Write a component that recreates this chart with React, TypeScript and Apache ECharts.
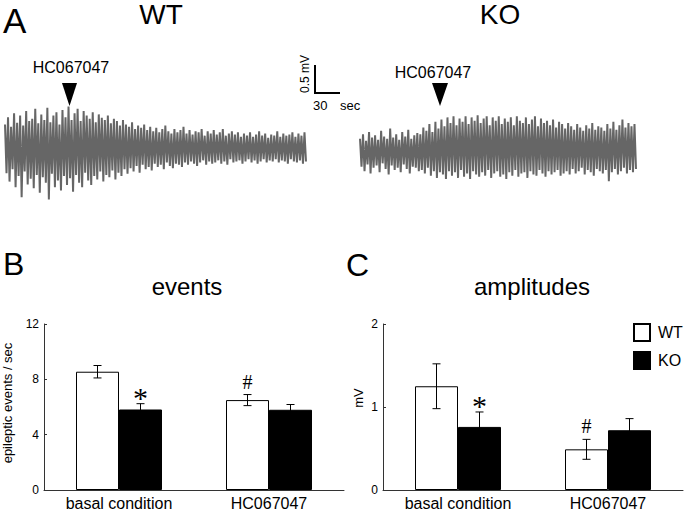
import React, { useEffect, useRef } from "react";
import * as echarts from "echarts";

// ---- Panel A: EEG traces (mV), alternating peak / trough per sample pair ----
const WT_TRACE_HIGH = [
  0.42, 0.55, 0.38, 0.62, 0.45, 0.58, 0.40, 0.66, 0.48, 0.52,
  0.70, 0.44, 0.60, 0.50, 0.72, 0.46, 0.58, 0.64, 0.42, 0.68,
  0.55, 0.74, 0.50, 0.62, 0.70, 0.48, 0.66, 0.58, 0.52, 0.64,
  0.46, 0.60, 0.54, 0.50, 0.58, 0.44, 0.52, 0.48, 0.40, 0.50,
  0.42, 0.38, 0.46, 0.34, 0.40, 0.36, 0.42, 0.32, 0.38, 0.30,
  0.36, 0.28, 0.34, 0.40, 0.30, 0.26, 0.34, 0.28, 0.32, 0.38,
  0.26, 0.32, 0.24, 0.30, 0.28, 0.34, 0.22, 0.30, 0.26, 0.32,
  0.24, 0.28, 0.34, 0.22, 0.26, 0.30, 0.24, 0.28, 0.20, 0.26,
  0.22, 0.28, 0.20, 0.24, 0.30, 0.22, 0.26, 0.18, 0.24, 0.22,
  0.30, 0.20, 0.26, 0.22, 0.24, 0.28, 0.20, 0.26, 0.22, 0.28,
];
const WT_TRACE_LOW = [
  -0.45, -0.60, -0.38, -0.70, -0.50, -0.88, -0.42, -0.65, -0.55, -0.72,
  -0.48, -0.80, -0.52, -0.62, -0.92, -0.46, -0.70, -0.58, -0.76, -0.50,
  -0.66, -0.54, -0.78, -0.48, -0.62, -0.70, -0.44, -0.58, -0.66, -0.50,
  -0.56, -0.42, -0.60, -0.48, -0.52, -0.40, -0.56, -0.44, -0.50, -0.38,
  -0.46, -0.36, -0.42, -0.32, -0.44, -0.30, -0.38, -0.34, -0.40, -0.28,
  -0.34, -0.30, -0.38, -0.26, -0.32, -0.36, -0.28, -0.30, -0.34, -0.26,
  -0.30, -0.24, -0.28, -0.32, -0.26, -0.22, -0.30, -0.24, -0.28, -0.26,
  -0.22, -0.28, -0.24, -0.30, -0.20, -0.26, -0.24, -0.22, -0.28, -0.24,
  -0.20, -0.26, -0.22, -0.28, -0.24, -0.20, -0.26, -0.22, -0.24, -0.20,
  -0.26, -0.22, -0.24, -0.28, -0.20, -0.24, -0.26, -0.22, -0.28, -0.24,
];
const KO_TRACE_HIGH = [
  0.22, 0.30, 0.18, 0.34, 0.24, 0.28, 0.20, 0.36, 0.26, 0.22,
  0.40, 0.24, 0.30, 0.20, 0.34, 0.26, 0.38, 0.22, 0.28, 0.32,
  0.30, 0.42, 0.36, 0.48, 0.34, 0.52, 0.40, 0.56, 0.44, 0.60,
  0.50, 0.62, 0.46, 0.58, 0.52, 0.62, 0.48, 0.60, 0.54, 0.64,
  0.50, 0.58, 0.62, 0.46, 0.60, 0.54, 0.62, 0.48, 0.58, 0.52,
  0.60, 0.46, 0.62, 0.54, 0.50, 0.60, 0.48, 0.56, 0.62, 0.44,
  0.58, 0.50, 0.54, 0.46, 0.56, 0.42, 0.52, 0.48, 0.40, 0.50,
  0.44, 0.38, 0.48, 0.42, 0.36, 0.46, 0.40, 0.50, 0.38, 0.44,
  0.42, 0.36, 0.48, 0.40, 0.52, 0.38, 0.46, 0.56, 0.42, 0.50,
  0.44, 0.48,
];
const KO_TRACE_LOW = [
  -0.28, -0.36, -0.24, -0.40, -0.30, -0.26, -0.38, -0.22, -0.32, -0.42,
  -0.26, -0.34, -0.30, -0.38, -0.24, -0.32, -0.40, -0.28, -0.30, -0.36,
  -0.34, -0.40, -0.30, -0.44, -0.36, -0.48, -0.38, -0.42, -0.50, -0.36,
  -0.44, -0.38, -0.48, -0.34, -0.46, -0.40, -0.50, -0.36, -0.42, -0.46,
  -0.38, -0.44, -0.34, -0.48, -0.40, -0.36, -0.46, -0.42, -0.50, -0.38,
  -0.44, -0.34, -0.46, -0.40, -0.38, -0.48, -0.36, -0.42, -0.44, -0.34,
  -0.40, -0.46, -0.36, -0.42, -0.38, -0.34, -0.44, -0.40, -0.36, -0.42,
  -0.32, -0.40, -0.36, -0.30, -0.42, -0.34, -0.38, -0.44, -0.32, -0.36,
  -0.40, -0.34, -0.54, -0.38, -0.32, -0.42, -0.36, -0.30, -0.40, -0.34,
  -0.38, -0.32,
];

// ---- Panels B and C ----
const CATEGORIES = ["basal condition", "HC067047"];
const GROUPS = ["WT", "KO"];

const EVENTS_WT = [8.55, 6.5];
const EVENTS_WT_SEM = [0.45, 0.4];
const EVENTS_KO = [5.82, 5.8];
const EVENTS_KO_SEM = [0.42, 0.38];
const EVENTS_WT_MARK = ["", "#"];
const EVENTS_KO_MARK = ["*", ""];
const EVENTS_TICKS = { min: 0, max: 12, interval: 4 };

const AMP_WT = [1.25, 0.49];
const AMP_WT_SEM = [0.27, 0.12];
const AMP_KO = [0.76, 0.72];
const AMP_KO_SEM = [0.18, 0.14];
const AMP_WT_MARK = ["", "#"];
const AMP_KO_MARK = ["*", ""];
const AMP_TICKS = { min: 0, max: 2, interval: 1 };

const FONT = "Liberation Sans";
const SERIF = "Liberation Serif";
const BAR_W = 43;
const TRACE_COLOR = "#666666";

function interleave(high: number[], low: number[]) {
  const out: number[][] = [];
  for (let i = 0; i < high.length; i++) {
    out.push([i * 2, high[i]]);
    out.push([i * 2 + 1, low[i]]);
  }
  return out;
}

function errorSeries(
  grid: number,
  mean: number[],
  sem: number[],
  marks: string[],
  offset: number
) {
  return {
    type: "custom",
    xAxisIndex: grid,
    yAxisIndex: grid,
    silent: true,
    z: 5,
    data: mean.map((m, i) => [i, m, sem[i]]),
    renderItem: (params: any, api: any) => {
      const cat = api.value(0);
      const m = api.value(1);
      const e = api.value(2);
      const top = api.coord([cat, m + e]);
      const bot = api.coord([cat, m - e]);
      const x = top[0] + offset;
      const st = { stroke: "#000", lineWidth: 1 };
      const children: any[] = [
        { type: "line", shape: { x1: x, y1: top[1], x2: x, y2: bot[1] }, style: st },
        { type: "line", shape: { x1: x - 4, y1: top[1], x2: x + 4, y2: top[1] }, style: st },
        { type: "line", shape: { x1: x - 4, y1: bot[1], x2: x + 4, y2: bot[1] }, style: st },
      ];
      const mk = marks[params.dataIndex];
      if (mk) {
        const star = mk === "*";
        children.push({
          type: "text",
          x: x,
          y: top[1] - (star ? 6 : 13),
          style: {
            text: mk,
            fontFamily: SERIF,
            fontSize: star ? 30 : 20,
            fill: "#000",
            align: "center",
            verticalAlign: "middle",
          },
        });
      }
      return { type: "group", children };
    },
  };
}

function txt(text: string, x: number, y: number, size: number, align = "left", rot = 0, family = FONT) {
  return {
    type: "text",
    x,
    y,
    rotation: rot,
    silent: true,
    style: {
      text,
      fontFamily: family,
      fontSize: size,
      lineHeight: size,
      fill: "#000",
      align,
      verticalAlign: "middle",
    },
  };
}

export default function App() {
  const ref = useRef<HTMLDivElement>(null);

  useEffect(() => {
    document.body.style.margin = "0";
    const chart = echarts.init(ref.current!, undefined, { renderer: "svg" });

    const wtData = interleave(WT_TRACE_HIGH, WT_TRACE_LOW);
    const koData = interleave(KO_TRACE_HIGH, KO_TRACE_LOW);

    const barX = (grid: number) => ({
      type: "category",
      gridIndex: grid,
      data: CATEGORIES,
      axisLine: { lineStyle: { color: "#333", width: 1 } },
      axisTick: { inside: true, length: 3, lineStyle: { color: "#333" } },
      axisLabel: { color: "#000", fontSize: 16, fontFamily: FONT, margin: 5 },
    });
    const barY = (grid: number, t: any) => ({
      type: "value",
      gridIndex: grid,
      min: t.min,
      max: t.max,
      interval: t.interval,
      axisLine: { show: true, lineStyle: { color: "#333", width: 1 } },
      axisTick: { show: true, inside: true, length: 3, lineStyle: { color: "#333" } },
      axisLabel: { color: "#000", fontSize: 12, fontFamily: FONT, margin: 5 },
      splitLine: { show: false },
    });

    const option: any = {
      animation: false,
      backgroundColor: "#fff",
      textStyle: { fontFamily: FONT },
      legend: {
        data: GROUPS,
        orient: "vertical",
        left: 633,
        top: 323,
        padding: 0,
        itemWidth: 16,
        itemHeight: 17,
        itemGap: 9,
        icon: "rect",
        selectedMode: false,
        textStyle: { fontSize: 16, color: "#000", fontFamily: FONT, padding: [0, 0, 0, 3] },
      },
      grid: [
        { left: 5, width: 301, top: 92, height: 112 },
        { left: 360, width: 276, top: 95, height: 112 },
        { left: 44, width: 300, top: 324, height: 167 },
        { left: 383, width: 300, top: 324, height: 167 },
      ],
      xAxis: [
        { type: "value", gridIndex: 0, min: 0, max: wtData.length - 1, show: false },
        { type: "value", gridIndex: 1, min: 0, max: koData.length - 1, show: false },
        barX(2),
        barX(3),
      ],
      yAxis: [
        { type: "value", gridIndex: 0, min: -1, max: 1, show: false },
        { type: "value", gridIndex: 1, min: -1, max: 1, show: false },
        barY(2, EVENTS_TICKS),
        barY(3, AMP_TICKS),
      ],
      series: [
        {
          name: "WT trace",
          type: "line",
          xAxisIndex: 0,
          yAxisIndex: 0,
          data: wtData,
          showSymbol: false,
          silent: true,
          lineStyle: { color: TRACE_COLOR, width: 2 },
        },
        {
          name: "KO trace",
          type: "line",
          xAxisIndex: 1,
          yAxisIndex: 1,
          data: koData,
          showSymbol: false,
          silent: true,
          lineStyle: { color: TRACE_COLOR, width: 2 },
        },
        {
          name: "WT",
          type: "bar",
          xAxisIndex: 2,
          yAxisIndex: 2,
          data: EVENTS_WT,
          barWidth: BAR_W,
          barGap: "0%",
          itemStyle: { color: "#fff", borderColor: "#000", borderWidth: 1 },
        },
        {
          name: "KO",
          type: "bar",
          xAxisIndex: 2,
          yAxisIndex: 2,
          data: EVENTS_KO,
          barWidth: BAR_W,
          barGap: "0%",
          itemStyle: { color: "#000", borderColor: "#000", borderWidth: 1 },
        },
        {
          name: "WT",
          type: "bar",
          xAxisIndex: 3,
          yAxisIndex: 3,
          data: AMP_WT,
          barWidth: BAR_W,
          barGap: "0%",
          itemStyle: { color: "#fff", borderColor: "#000", borderWidth: 1 },
        },
        {
          name: "KO",
          type: "bar",
          xAxisIndex: 3,
          yAxisIndex: 3,
          data: AMP_KO,
          barWidth: BAR_W,
          barGap: "0%",
          itemStyle: { color: "#000", borderColor: "#000", borderWidth: 1 },
        },
        errorSeries(2, EVENTS_WT, EVENTS_WT_SEM, EVENTS_WT_MARK, -BAR_W / 2),
        errorSeries(2, EVENTS_KO, EVENTS_KO_SEM, EVENTS_KO_MARK, BAR_W / 2),
        errorSeries(3, AMP_WT, AMP_WT_SEM, AMP_WT_MARK, -BAR_W / 2),
        errorSeries(3, AMP_KO, AMP_KO_SEM, AMP_KO_MARK, BAR_W / 2),
      ],
      graphic: [
        txt("A", 3, 20, 35),
        txt("WT", 161, 14.5, 28, "center"),
        txt("KO", 500, 14.5, 28, "center"),
        txt("HC067047", 71, 67.5, 16, "center"),
        txt("HC067047", 433, 72.5, 16, "center"),
        { type: "polygon", silent: true, shape: { points: [[62, 83], [77, 83], [69.5, 106]] }, style: { fill: "#000" } },
        { type: "polygon", silent: true, shape: { points: [[432, 83], [448, 83], [440, 106]] }, style: { fill: "#000" } },
        { type: "line", silent: true, shape: { x1: 315, y1: 65, x2: 315, y2: 93 }, style: { stroke: "#000", lineWidth: 2 } },
        { type: "line", silent: true, shape: { x1: 314, y1: 93, x2: 340, y2: 93 }, style: { stroke: "#000", lineWidth: 2 } },
        txt("0.5 mV", 305, 74, 12, "center", Math.PI / 2),
        txt("30", 313, 105.5, 13),
        txt("sec", 340, 105.5, 13),
        txt("B", 3, 264, 32),
        txt("C", 346, 265, 32),
        txt("events", 187, 286, 24, "center"),
        txt("amplitudes", 532, 286, 24, "center"),
        txt("epileptic events / sec", 7.5, 403, 13, "center", Math.PI / 2),
        txt("mV", 358, 398, 13, "center", Math.PI / 2),
      ],
    };

    chart.setOption(option);
    return () => chart.dispose();
  }, []);

  return (
    <div
      ref={ref}
      style={{ position: "absolute", left: 0, top: 0, width: 685, height: 511 }}
    />
  );
}
